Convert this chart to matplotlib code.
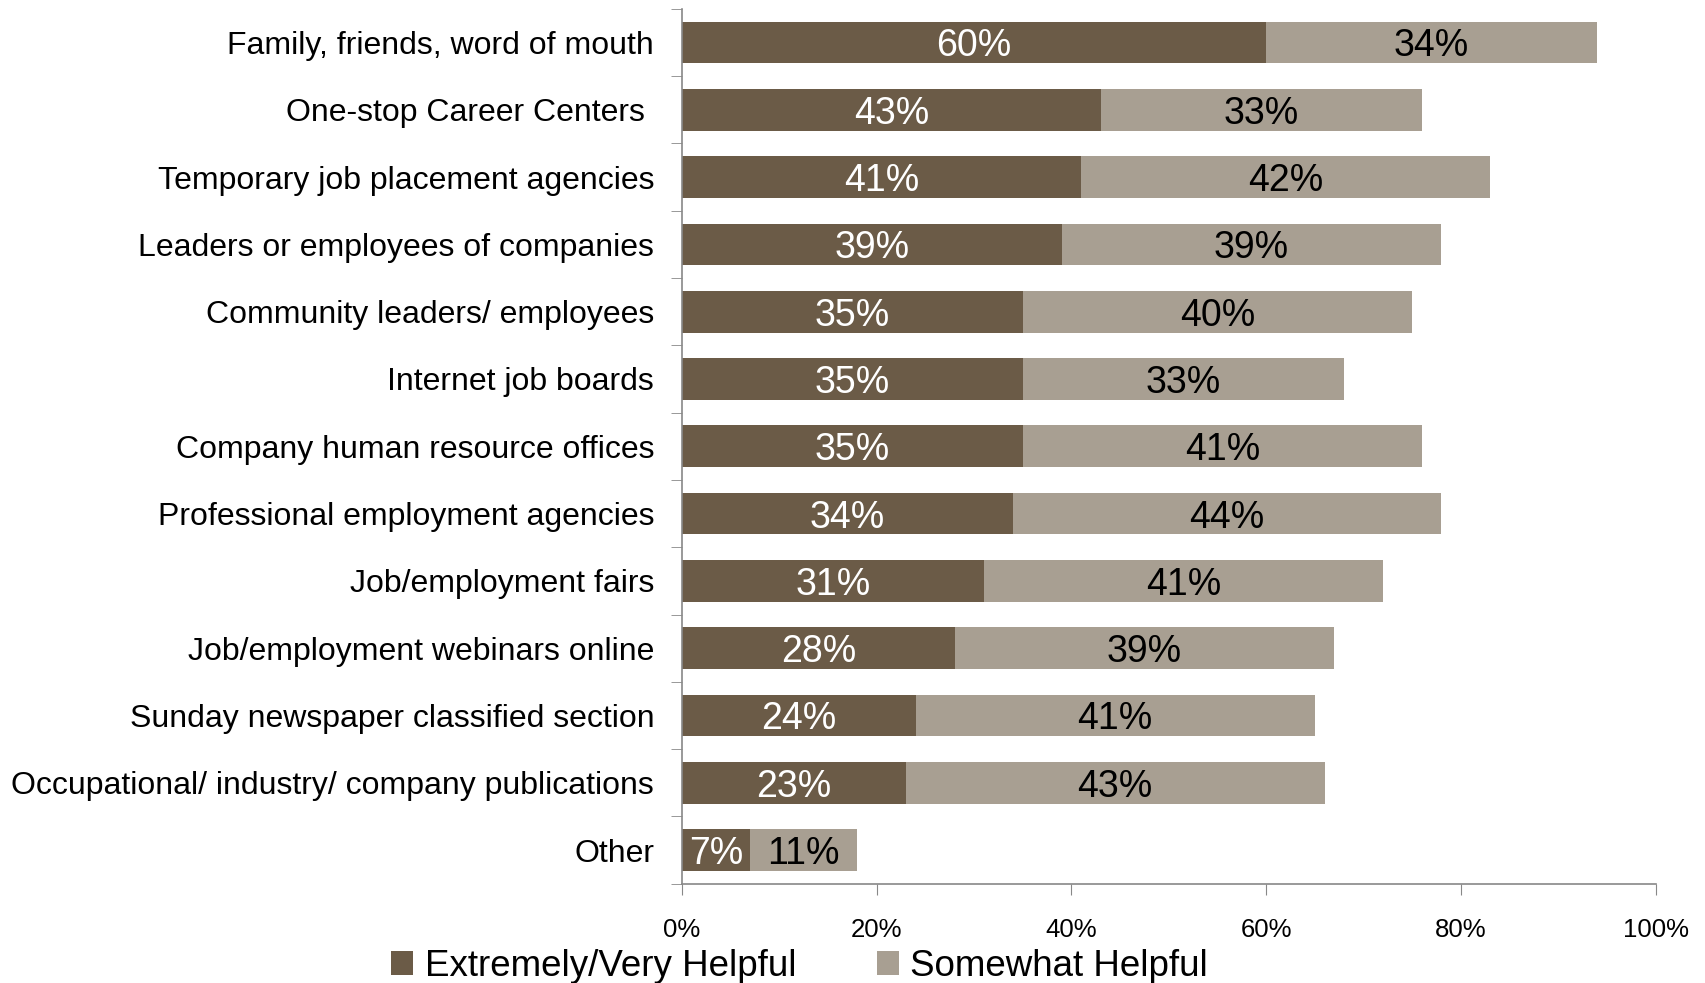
import numpy as np
import matplotlib.pyplot as plt
from matplotlib.ticker import FixedLocator, PercentFormatter

categories = [
    "Family, friends, word of mouth",
    "One-stop Career Centers ",
    "Temporary job placement agencies",
    "Leaders or employees of companies",
    "Community leaders/ employees",
    "Internet job boards",
    "Company human resource offices",
    "Professional employment agencies",
    "Job/employment fairs",
    "Job/employment webinars online",
    "Sunday newspaper classified section",
    "Occupational/ industry/ company publications",
    "Other",
]
extremely = [60, 43, 41, 39, 35, 35, 35, 34, 31, 28, 24, 23, 7]
somewhat = [34, 33, 42, 39, 40, 33, 41, 44, 41, 39, 41, 43, 11]
series_names = ["Extremely/Very Helpful", "Somewhat Helpful"]

dark = "#6B5B47"
light = "#A89F92"
axis_gray = "#888888"

plt.rcParams['font.family'] = ['Liberation Sans', 'DejaVu Sans']

fig = plt.figure(figsize=(17.05, 9.83), dpi=100)
ax = fig.add_axes([0.400, 0.101, 0.571, 0.890])

y = np.arange(len(categories))
b1 = ax.barh(y, extremely, height=0.62, color=dark, label=series_names[0])
b2 = ax.barh(y, somewhat, left=extremely, height=0.62, color=light, label=series_names[1])

for rect, v in zip(b1, extremely):
    ax.text(rect.get_x() + rect.get_width() / 2, rect.get_y() + rect.get_height() / 2,
            f"{v}%", ha='center', va='center_baseline', color='white', fontsize=27)
for rect, v in zip(b2, somewhat):
    ax.text(rect.get_x() + rect.get_width() / 2, rect.get_y() + rect.get_height() / 2,
            f"{v}%", ha='center', va='center_baseline', color='black', fontsize=27)

ax.set_xlim(0, 100)
ax.set_ylim(len(categories) - 0.5, -0.5)
ax.xaxis.set_major_locator(FixedLocator([0, 20, 40, 60, 80, 100]))
ax.xaxis.set_major_formatter(PercentFormatter(decimals=0))
ax.tick_params(axis='x', labelsize=18.5, length=8, color=axis_gray, pad=17)

ax.set_yticks(y)
ax.set_yticklabels(categories, fontsize=23, va='center_baseline')
ax.tick_params(axis='y', which='major', length=0, pad=20)
ax.set_yticks(np.arange(len(categories) + 1) - 0.5, minor=True)
ax.tick_params(axis='y', which='minor', length=8, color=axis_gray)

for s in ['top', 'right']:
    ax.spines[s].set_visible(False)
for s in ['left', 'bottom']:
    ax.spines[s].set_color(axis_gray)
    ax.spines[s].set_linewidth(1.2)

fig.legend(loc='center', bbox_to_anchor=(0.469, 0.017), ncol=2, frameon=False,
           fontsize=26.5, handlelength=0.6, handleheight=0.6, handletextpad=0.3,
           columnspacing=2.2, borderpad=0.0)

fig.savefig("out.png", dpi=100)
